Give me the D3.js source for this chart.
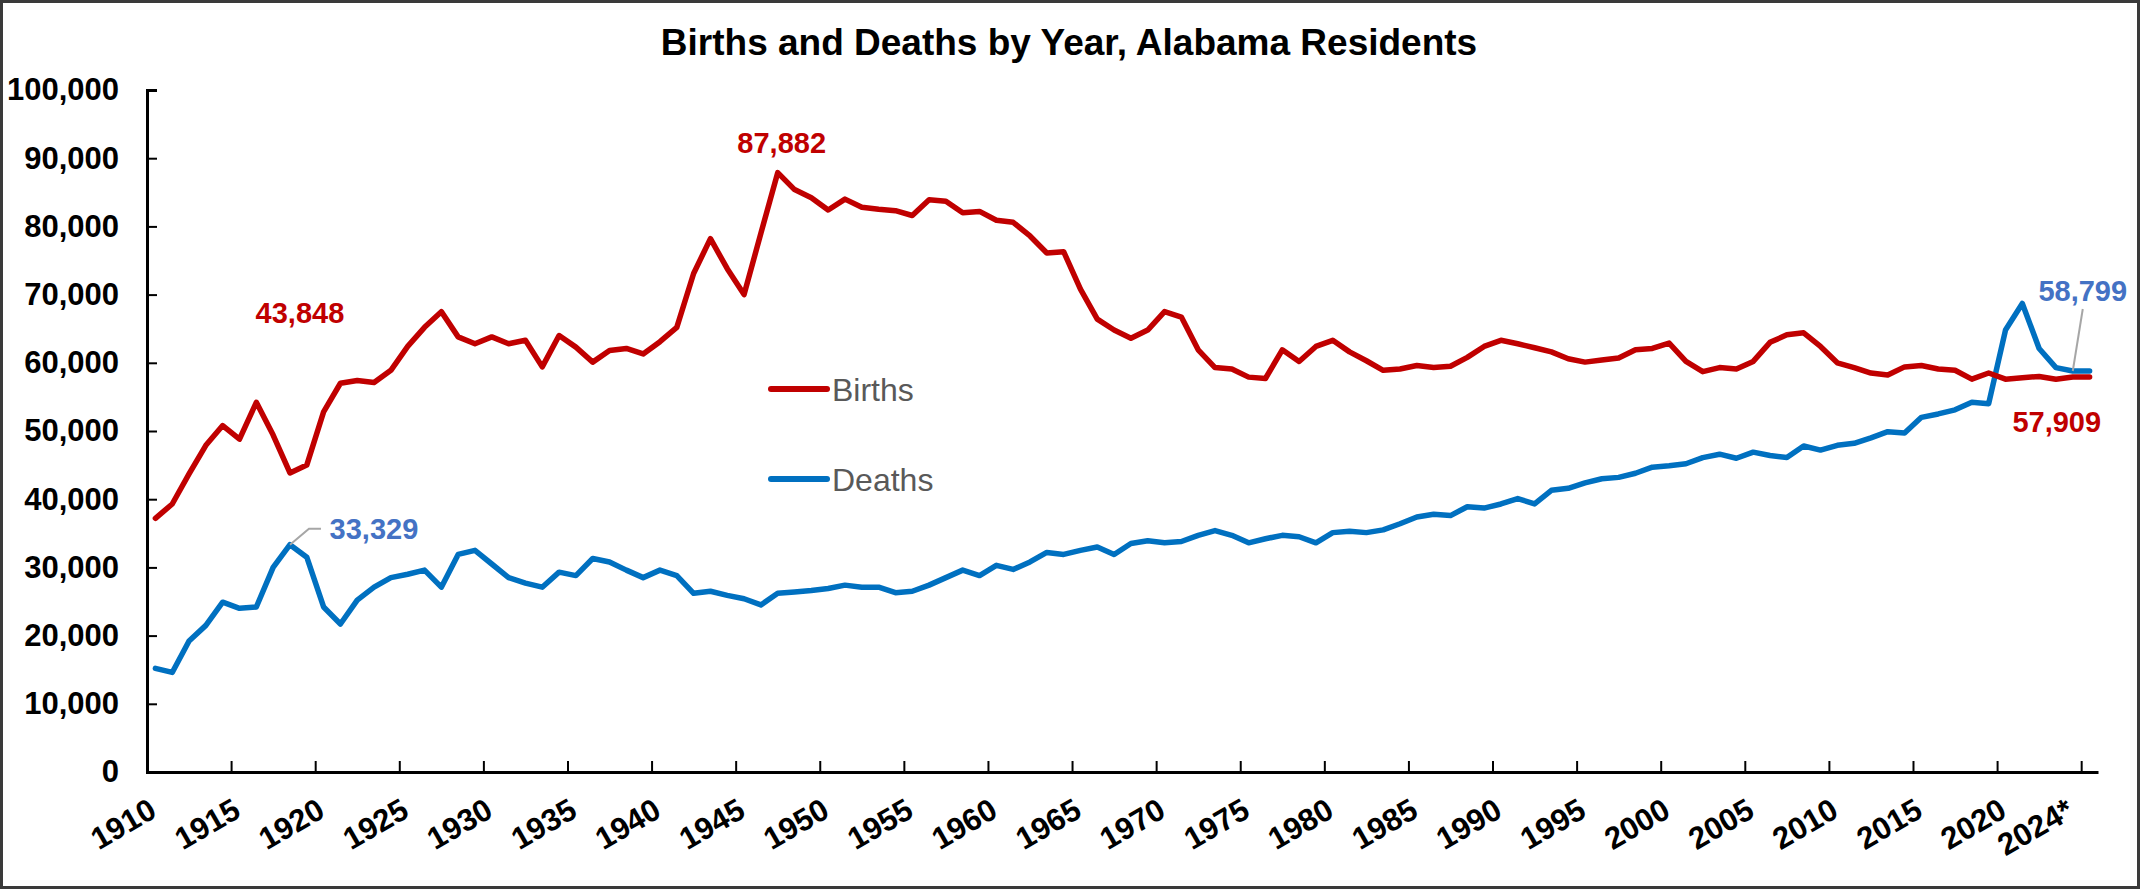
<!DOCTYPE html>
<html>
<head>
<meta charset="utf-8">
<script src="https://cdn.jsdelivr.net/npm/d3@7"></script>
<style>
  body { margin: 0; background: #fff; }
  svg { display: block; font-family: "Liberation Sans", Arial, sans-serif; }
</style>
</head>
<body>
<div id="chart"></div>
<script>
// categories (last slot repeats the 2024 value, unlabeled, as in the source chart)
var years = ["1910","1911","1912","1913","1914","1915","1916","1917","1918","1919",
  "1920","1921","1922","1923","1924","1925","1926","1927","1928","1929",
  "1930","1931","1932","1933","1934","1935","1936","1937","1938","1939",
  "1940","1941","1942","1943","1944","1945","1946","1947","1948","1949",
  "1950","1951","1952","1953","1954","1955","1956","1957","1958","1959",
  "1960","1961","1962","1963","1964","1965","1966","1967","1968","1969",
  "1970","1971","1972","1973","1974","1975","1976","1977","1978","1979",
  "1980","1981","1982","1983","1984","1985","1986","1987","1988","1989",
  "1990","1991","1992","1993","1994","1995","1996","1997","1998","1999",
  "2000","2001","2002","2003","2004","2005","2006","2007","2008","2009",
  "2010","2011","2012","2013","2014","2015","2016","2017","2018","2019",
  "2020","2021","2022","2023","2024*",""];

var tickLabels = ["1910","1915","1920","1925","1930","1935","1940","1945","1950","1955",
  "1960","1965","1970","1975","1980","1985","1990","1995","2000","2005","2010","2015","2020","2024*"];

var births = [37200,39300,43700,47900,50800,48800,54200,49400,43848,45000,
  52800,57000,57400,57100,58900,62400,65200,67500,63800,62800,
  63800,62800,63300,59400,64000,62300,60100,61800,62100,61300,
  63100,65200,73100,78200,73800,70000,79000,87882,85400,84200,
  82400,84000,82800,82500,82300,81600,83900,83700,82000,82200,
  80900,80600,78600,76100,76300,70800,66400,64800,63600,64800,
  67500,66700,61900,59300,59100,57900,57700,61900,60200,62400,
  63300,61600,60300,58900,59100,59600,59300,59500,60800,62400,
  63300,62800,62200,61600,60600,60100,60400,60700,61900,62100,
  62900,60200,58700,59300,59100,60200,63000,64100,64400,62400,
  60000,59300,58500,58200,59400,59600,59100,58900,57600,58500,
  57600,57800,58000,57600,57909,57909];

var deaths = [15200,14600,19200,21500,24900,24000,24200,30000,33329,31500,
  24200,21700,25200,27100,28500,29000,29600,27100,31900,32500,
  30500,28500,27700,27100,29300,28800,31300,30800,29600,28500,
  29600,28800,26200,26500,25900,25400,24500,26200,26400,26600,
  26900,27400,27100,27100,26300,26500,27400,28500,29600,28800,
  30300,29700,30800,32200,31900,32500,33000,31900,33500,33900,
  33600,33800,34700,35400,34700,33600,34200,34700,34500,33600,
  35100,35300,35100,35500,36400,37400,37800,37600,38900,38700,
  39300,40100,39300,41300,41600,42400,43000,43200,43800,44700,
  44900,45200,46100,46600,46000,46900,46400,46100,47800,47200,
  47900,48200,49000,49900,49700,52000,52500,53100,54200,54000,
  64800,68700,62100,59300,58799,58799];

var yTicks = [0,10000,20000,30000,40000,50000,60000,70000,80000,90000,100000];

var width = 2140, height = 889;
var margin = {top: 90, right: 42, bottom: 117, left: 147};

var birthColor = "#C00000", deathColor = "#0070C0", labelBlue = "#4472C4";

var svg = d3.select("#chart").append("svg")
    .attr("width", width)
    .attr("height", height);

svg.append("rect")
    .attr("x", 1.5).attr("y", 1.5)
    .attr("width", width - 3).attr("height", height - 3)
    .attr("fill", "#fff")
    .attr("stroke", "#3a3a3a")
    .attr("stroke-width", 3);

svg.append("text")
    .attr("x", 1069)
    .attr("y", 55)
    .attr("text-anchor", "middle")
    .attr("font-size", 37)
    .attr("font-weight", "bold")
    .text("Births and Deaths by Year, Alabama Residents");

var x0 = margin.left, x1 = width - margin.right;
var y0 = height - margin.bottom, y1 = margin.top;

// band scale for category centres, linear one for the tick boundaries
var x = d3.scaleBand().domain(d3.range(years.length)).range([x0, x1]).padding(0);
var xb = d3.scaleLinear().domain([0, years.length]).range([x0, x1]);
var y = d3.scaleLinear().domain([0, 100000]).range([y0, y1]);

function cx(i) { return x(i) + x.bandwidth() / 2; }

// y axis, ticks pointing into the plot
var yAxis = svg.append("g")
    .attr("transform", "translate(" + x0 + ",0)")
    .call(d3.axisLeft(y).tickValues(yTicks).tickSize(-10).tickPadding(28)
        .tickFormat(d3.format(",")));
yAxis.select(".domain").attr("stroke", "#000").attr("stroke-width", 3);
yAxis.selectAll(".tick line").attr("stroke", "#000").attr("stroke-width", 2);
yAxis.selectAll(".tick text")
    .attr("font-size", 31)
    .attr("font-weight", "bold")
    .attr("font-family", "Liberation Sans, Arial, sans-serif")
    .attr("fill", "#000");

// x axis: tick marks at every 5th category boundary
var xAxis = svg.append("g")
    .attr("transform", "translate(0," + y0 + ")")
    .call(d3.axisBottom(xb).tickValues(d3.range(5, years.length, 5))
        .tickSize(-11).tickSizeOuter(0).tickFormat(""));
xAxis.select(".domain").attr("stroke", "#000").attr("stroke-width", 3);
xAxis.selectAll(".tick line").attr("stroke", "#000").attr("stroke-width", 2);

svg.append("g")
    .selectAll("text")
    .data(years.map(function (d, i) { return {label: d, i: i}; })
        .filter(function (d) { return tickLabels.indexOf(d.label) >= 0; }))
    .enter().append("text")
    .attr("transform", function (d) {
        return "translate(" + (cx(d.i) + 3) + "," + (y0 + 44) + ") rotate(-30)";
    })
    .attr("text-anchor", "end")
    .attr("font-size", 31)
    .attr("font-weight", "bold")
    .text(function (d) { return d.label; });

// lines
var line = d3.line()
    .x(function (d, i) { return cx(i); })
    .y(function (d) { return y(d); });

svg.append("path")
    .datum(deaths)
    .attr("d", line)
    .attr("fill", "none")
    .attr("stroke", deathColor)
    .attr("stroke-width", 5.5)
    .attr("stroke-linejoin", "round")
    .attr("stroke-linecap", "round");

svg.append("path")
    .datum(births)
    .attr("d", line)
    .attr("fill", "none")
    .attr("stroke", birthColor)
    .attr("stroke-width", 5.5)
    .attr("stroke-linejoin", "round")
    .attr("stroke-linecap", "round");

// data labels
function label(txt, px, py, color) {
    svg.append("text")
        .attr("x", px).attr("y", py)
        .attr("text-anchor", "middle")
        .attr("font-size", 29)
        .attr("font-weight", "bold")
        .attr("fill", color)
        .text(txt);
}
var i1918 = years.indexOf("1918"), i1947 = years.indexOf("1947"), i2024 = years.indexOf("2024*");

label(d3.format(",")(births[i1918]), cx(i1918) + 10, y(births[i1918]) - 150, birthColor);
label(d3.format(",")(births[i1947]), cx(i1947) + 4, y(births[i1947]) - 20, birthColor);
label(d3.format(",")(births[i2024]), cx(i2024) - 16, y(births[i2024]) + 55, birthColor);

// leader lines for the blue labels
var lead = svg.append("g").attr("stroke", "#A6A6A6").attr("stroke-width", 2).attr("fill", "none");
lead.append("path").attr("d", "M" + cx(i1918) + "," + y(deaths[i1918]) +
    "L" + (cx(i1918) + 19) + "," + (y(deaths[i1918]) - 16) + "h12");
lead.append("path").attr("d", "M" + cx(i2024) + "," + y(deaths[i2024]) +
    "L" + (cx(i2024) + 10) + "," + (y(deaths[i2024]) - 62));

label(d3.format(",")(deaths[i1918]), cx(i1918) + 84, y(deaths[i1918]) - 6, labelBlue);
label(d3.format(",")(deaths[i2024]), cx(i2024) + 10, y(deaths[i2024]) - 70, labelBlue);

// legend
var legend = svg.append("g").attr("transform", "translate(771,0)");
[["Births", birthColor, 389], ["Deaths", deathColor, 479]].forEach(function (d) {
    legend.append("line")
        .attr("x1", 0).attr("x2", 56)
        .attr("y1", d[2]).attr("y2", d[2])
        .attr("stroke", d[1]).attr("stroke-width", 6)
        .attr("stroke-linecap", "round");
    legend.append("text")
        .attr("x", 61).attr("y", d[2] + 12)
        .attr("font-size", 32)
        .attr("fill", "#595959")
        .text(d[0]);
});
</script>
</body>
</html>
